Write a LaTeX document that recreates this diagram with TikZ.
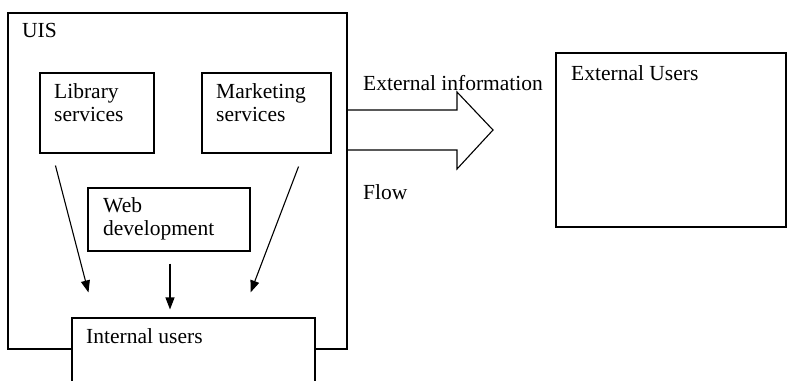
\documentclass[tikz,border=0pt]{standalone}
\usepackage{fontspec}
\setmainfont{Liberation Serif}
\usetikzlibrary{arrows.meta}

\begin{document}
\begin{tikzpicture}[
  x=1pt, y=-1pt,
  font=\fontsize{21.5}{23}\selectfont,
  >={Triangle[length=12pt,width=9pt]},
  box/.style={draw, line width=1.1pt, fill=white, inner sep=0pt},
  txt/.style={anchor=base west, align=left, inner sep=0pt},
  flowarrow/.style={line width=1.1pt, ->}
]
\clip (0,0) rectangle (789,380);
\fill[white] (0,0) rectangle (789,380);
% boxes
\node[box, minimum width=339pt, minimum height=336pt] (uis) at (177.5,181) {};
\node[box, minimum width=114pt, minimum height=80pt] (lib) at (97,113) {};
\node[box, minimum width=129pt, minimum height=80pt] (mkt) at (266.5,113) {};
\node[box, minimum width=162pt, minimum height=63pt] (web) at (169,219.5) {};
\node[box, minimum width=243pt, minimum height=82pt] (int) at (193.5,359) {};
\node[box, minimum width=230pt, minimum height=174pt] (ext) at (671,140) {};
% texts (base west = baseline of the last line)
\node[txt] (uistxt) at (22,37) {UIS};
\node[txt] (libtxt) at (54,121) {Library\\services};
\node[txt] (mkttxt) at (216,121) {Marketing\\services};
\node[txt] (webtxt) at (103,235) {Web\\development};
\node[txt] (inttxt) at (86,343) {Internal users};
\node[txt] (exttxt) at (571,80) {External Users};
\node[txt] (infotxt) at (363,90) {External information};
\node[txt] (flowtxt) at (363,199) {Flow};
% arrows to internal users
\draw[flowarrow] ([shift={(16,12)}]lib.south west) -- ([shift={(17,-25)}]int.north west);
\draw[flowarrow] ([shift={(1,12)}]web.south) -- ([shift={(1,-8)}]web.south |- int.north);
\draw[flowarrow] ([shift={(-33,13)}]mkt.south east) -- ([shift={(-65,-25)}]int.north east);
% big arrow to external users
\coordinate (tip) at (493,130);
\draw[line width=1.1pt, line join=miter] (uis.east |- 0,110) -- (457,110) -- (457,92) -- (tip)
  -- (457,169) -- (457,150) -- (uis.east |- 0,150);
\end{tikzpicture}
\end{document}
